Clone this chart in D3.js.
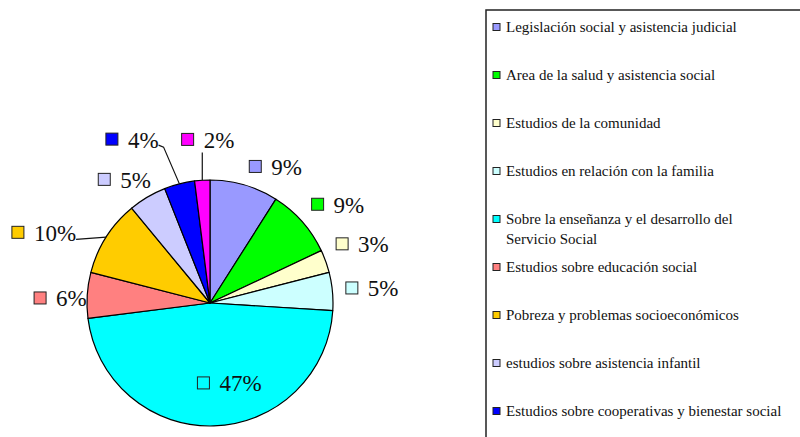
<!DOCTYPE html>
<html lang="es">
  <head>
    <meta charset="UTF-8" />
    <title>Distribución de temas</title>
    <script src="https://d3js.org/d3.v7.min.js"></script>
    <style>
      body { margin: 0; background: #fff; }
    </style>
  </head>
  <body>
    <svg width="800" height="437"></svg>

    <script>
      // Datos del gráfico
      const categories = [
        "Legislación social y asistencia judicial",
        "Area de la salud y asistencia social",
        "Estudios de la comunidad",
        "Estudios en relación con la familia",
        "Sobre la enseñanza y el desarrollo del|Servicio Social",
        "Estudios sobre educación social",
        "Pobreza y problemas socioeconómicos",
        "estudios sobre asistencia infantil",
        "Estudios sobre cooperativas y bienestar social",
        "Otros",
      ];
      const values = [9, 9, 3, 5, 47, 6, 10, 5, 4, 2];
      const colors = [
        "#9999FF", "#00FF00", "#FFFFCC", "#CCFFFF", "#00FFFF",
        "#FF8080", "#FFCC00", "#CCCCFF", "#0000FF", "#FF00FF",
      ];

      // Ajustes de posición de las etiquetas (arrastradas a mano en el original)
      const labelRadius = [1.3, 1.3, 1.3, 1.3, 0.65, 1.3, 1.3, 1.3, 1.3, 1.3];
      const labelNudge = [
        [21, 17], [8, 7], [2, -5], [3, 0], [17, 0],
        [10, 5], [-31, 15], [-4, 14], [-38, -9], [8, -4],
      ];
      // tipo de línea guía por índice
      const leaders = { 6: "right", 8: "bend", 9: "bottom" };

      const FONT = "Liberation Serif";
      const svg = d3.select("svg");
      const height = +svg.attr("height");
      const center = { x: 210, y: 303 };
      const radius = 123;

      const pie = d3.pie().sort(null).value((d) => d);
      const arcs = pie(values);
      const total = d3.sum(values);

      const arc = d3.arc().innerRadius(0).outerRadius(radius);

      const g = svg.append("g").attr("transform", `translate(${center.x},${center.y})`);

      g.selectAll("path.slice")
        .data(arcs)
        .join("path")
        .attr("class", "slice")
        .attr("d", arc)
        .attr("fill", (d, i) => colors[i])
        .attr("stroke", "#000")
        .attr("stroke-width", 1.2)
        .attr("stroke-linejoin", "round");

      // Etiquetas de porcentaje
      const sq = 12;
      const gap = 10;
      arcs.forEach((d, i) => {
        const rl = radius * labelRadius[i];
        const c = d3.arc().innerRadius(rl).outerRadius(rl).centroid(d);
        const cx = c[0] + labelNudge[i][0];
        const cy = c[1] + labelNudge[i][1];

        const lg = g.append("g");
        const txt = lg
          .append("text")
          .attr("font-family", FONT)
          .attr("font-size", 23)
          .attr("fill", "#111")
          .attr("dominant-baseline", "central")
          .text(Math.round((values[i] / total) * 100) + "%");
        const tw = txt.node().getComputedTextLength();
        const w = sq + gap + tw;
        const left = cx - w / 2;

        lg.append("rect")
          .attr("x", left)
          .attr("y", cy - sq / 2)
          .attr("width", sq)
          .attr("height", sq)
          .attr("fill", colors[i])
          .attr("stroke", "#222")
          .attr("stroke-width", 1);
        txt.attr("x", left + sq + gap).attr("y", cy + 1);

        // Líneas guía
        const type = leaders[i];
        if (type) {
          const a = (d.startAngle + d.endAngle) / 2;
          const ex = Math.sin(a) * radius;
          const ey = -Math.cos(a) * radius;
          let pts;
          if (type === "right") {
            pts = [[left + w, cy + 7], [ex, ey]];
          } else if (type === "bend") {
            pts = [[left + w, cy + 6], [left + w + 5, cy + 8], [ex, ey]];
          } else {
            pts = [[ex, cy + 13], [ex, ey]];
          }
          g.append("path")
            .attr("d", d3.line()(pts))
            .attr("fill", "none")
            .attr("stroke", "#111")
            .attr("stroke-width", 1.2);
        }
      });

      // Leyenda
      const legend = svg.append("g");
      legend
        .append("rect")
        .attr("x", 486)
        .attr("y", 10)
        .attr("width", 400)
        .attr("height", 500)
        .attr("fill", "#fff")
        .attr("stroke", "#222")
        .attr("stroke-width", 1.5);

      categories.forEach((name, i) => {
        const y = 27 + 48 * i;
        if (y > height - 8) return; // fuera del recorte, como en el original
        legend
          .append("rect")
          .attr("x", 493)
          .attr("y", y - 3.5)
          .attr("width", 7)
          .attr("height", 7)
          .attr("fill", colors[i])
          .attr("stroke", "#222")
          .attr("stroke-width", 1);
        name.split("|").forEach((line, k) => {
          legend
            .append("text")
            .attr("x", 506)
            .attr("y", y + k * 20)
            .attr("font-family", FONT)
            .attr("font-size", 15)
            .attr("fill", "#111")
            .attr("dominant-baseline", "central")
            .text(line);
        });
      });
    </script>
  </body>
</html>
